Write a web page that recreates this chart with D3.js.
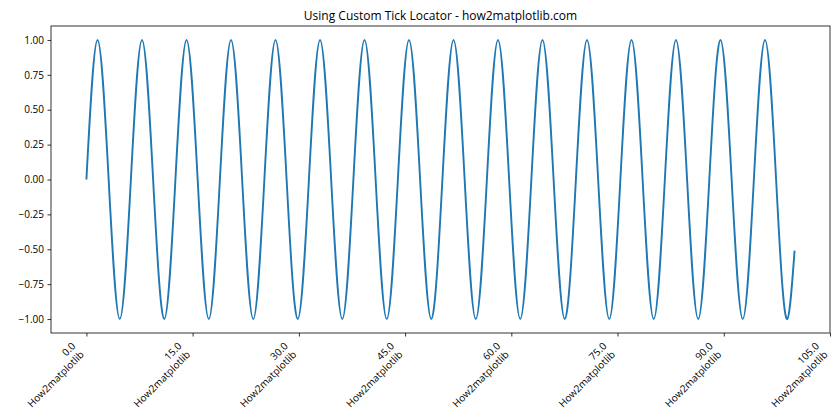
<!DOCTYPE html>
<html>
<head>
<meta charset="utf-8">
<script src="https://cdn.jsdelivr.net/npm/d3@7"></script>
<style>
  body { margin: 0; background: #fff; }
  svg text { font-family: "Segoe UI", "Open Sans", "Noto Sans", sans-serif; fill: #000; }
</style>
</head>
<body>
<svg id="chart" width="840" height="420"></svg>
<script>
const xValues = [
  0, 1.57, 3.14, 4.71, 6.28, 7.85, 9.42, 11.00, 12.57, 14.14, 15.71, 17.28, 18.85, 20.42, 21.99, 23.56,
  25.13, 26.70, 28.27, 29.85, 31.42, 32.99, 34.56, 36.13, 37.70, 39.27, 40.84, 42.41, 43.98, 45.55, 47.12, 48.69,
  50.27, 51.84, 53.41, 54.98, 56.55, 58.12, 59.69, 61.26, 62.83, 64.40, 65.97, 67.54, 69.12, 70.69, 72.26, 73.83,
  75.40, 76.97, 78.54, 80.11, 81.68, 83.25, 84.82, 86.39, 87.96, 89.54, 91.11, 92.68, 94.25, 95.82, 97.39, 98.96,
  100
];
const yValues = [
  0, 1, 0, -1, 0, 1, 0, -1, 0, 1, 0, -1, 0, 1, 0, -1,
  0, 1, 0, -1, 0, 1, 0, -1, 0, 1, 0, -1, 0, 1, 0, -1,
  0, 1, 0, -1, 0, 1, 0, -1, 0, 1, 0, -1, 0, 1, 0, -1,
  0, 1, 0, -1, 0, 1, 0, -1, 0, 1, 0, -1, 0, 1, 0, -1,
  -0.51
];
const xTicks = [0, 15, 30, 45, 60, 75, 90, 105];
const yTicks = [-1, -0.75, -0.5, -0.25, 0, 0.25, 0.5, 0.75, 1];
const tickSuffix = "How2matplotlib";
const title = "Using Custom Tick Locator - how2matplotlib.com";

// natural cubic spline in x (d3.curveNatural is parametric, which bends on uneven spacing)
function curveNaturalX(context) {
  let xs, ys;
  return {
    areaStart() {}, areaEnd() {},
    lineStart() { xs = []; ys = []; },
    point(x, y) { xs.push(+x); ys.push(+y); },
    lineEnd() {
      const n = xs.length;
      if (!n) return;
      context.moveTo(xs[0], ys[0]);
      if (n === 2) { context.lineTo(xs[1], ys[1]); return; }
      const h = d3.range(n - 1).map(i => xs[i + 1] - xs[i]);
      const M = new Array(n).fill(0);
      const c = new Array(n).fill(0), d = new Array(n).fill(0);
      for (let i = 1; i < n - 1; i++) {
        const a = h[i - 1], b = 2 * (h[i - 1] + h[i]), cc = h[i];
        const r = 6 * ((ys[i + 1] - ys[i]) / h[i] - (ys[i] - ys[i - 1]) / h[i - 1]);
        const den = b - a * c[i - 1];
        c[i] = cc / den;
        d[i] = (r - a * d[i - 1]) / den;
      }
      for (let i = n - 2; i >= 1; i--) M[i] = d[i] - c[i] * M[i + 1];
      for (let i = 0; i < n - 1; i++) {
        const hi = h[i], s = (ys[i + 1] - ys[i]) / hi;
        const m0 = s - hi * (2 * M[i] + M[i + 1]) / 6;
        const m1 = s + hi * (M[i] + 2 * M[i + 1]) / 6;
        context.bezierCurveTo(
          xs[i] + hi / 3, ys[i] + m0 * hi / 3,
          xs[i + 1] - hi / 3, ys[i + 1] - m1 * hi / 3,
          xs[i + 1], ys[i + 1]);
      }
    }
  };
}

const margin = { top: 26, right: 10, bottom: 87, left: 51 };
const W = 840, H = 420;
const width = W - margin.left - margin.right;
const height = H - margin.top - margin.bottom;

const svg = d3.select("#chart");
const g = svg.append("g").attr("transform", `translate(${margin.left},${margin.top})`);

const x = d3.scaleLinear().domain([-5, 105]).range([0, width]);
const y = d3.scaleLinear().domain([-1.1, 1.1]).range([height, 0]);

const data = xValues.map((v, i) => ({ x: v, y: yValues[i] }));

// line
const line = d3.line()
  .x(d => x(d.x))
  .y(d => y(d.y))
  .curve(curveNaturalX);

g.append("path")
  .datum(data)
  .attr("fill", "none")
  .attr("stroke", "#1f77b4")
  .attr("stroke-width", 1.9)
  .attr("stroke-linejoin", "round")
  .attr("d", line);

// y axis
const yAxis = g.append("g")
  .call(d3.axisLeft(y).tickValues(yTicks).tickSize(3.5).tickPadding(3.5)
    .tickFormat(d => d3.format(".2f")(d)));
yAxis.select(".domain").remove();
yAxis.selectAll("line").attr("stroke", "#000").attr("stroke-width", 0.8);
yAxis.selectAll("text").attr("font-size", 10).attr("font-family", null);

// x axis (labels drawn by hand since they are rotated 2-line)
const xAxis = g.append("g")
  .attr("transform", `translate(0,${height})`)
  .call(d3.axisBottom(x).tickValues(xTicks).tickSize(3.5).tickFormat(""));
xAxis.select(".domain").remove();
xAxis.selectAll("line").attr("stroke", "#000").attr("stroke-width", 0.8);

const fs = 10, lh = 12, descent = 2.5;
const blockH = lh * 2;
const c45 = Math.SQRT1_2;
xTicks.forEach(t => {
  const bx = x(t);
  const by = height + 7 + blockH * c45;
  const lab = g.append("g")
    .attr("transform", `translate(${bx},${by}) rotate(-45)`);
  lab.append("text")
    .attr("text-anchor", "end")
    .attr("font-size", fs)
    .attr("y", -descent - lh)
    .text(d3.format(".1f")(t));
  lab.append("text")
    .attr("text-anchor", "end")
    .attr("font-size", fs)
    .attr("y", -descent)
    .text(tickSuffix);
});

// frame
g.append("rect")
  .attr("width", width)
  .attr("height", height)
  .attr("fill", "none")
  .attr("stroke", "#000")
  .attr("stroke-width", 0.8);

// title
svg.append("text")
  .attr("x", margin.left + width / 2)
  .attr("y", 20)
  .attr("text-anchor", "middle")
  .attr("font-size", 12)
  .text(title);
</script>
</body>
</html>
